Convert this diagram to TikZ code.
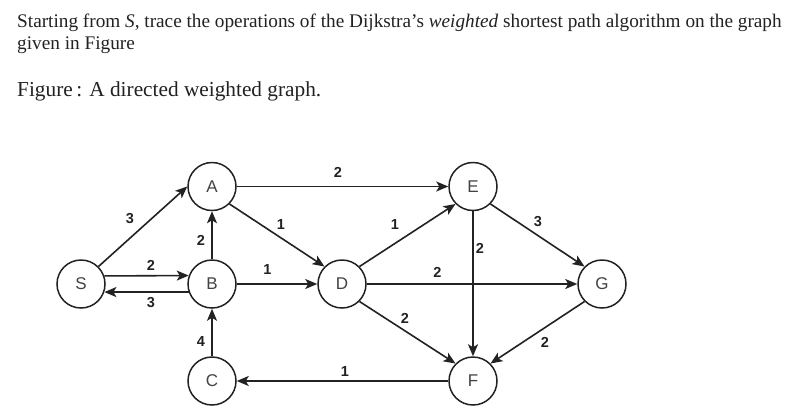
\documentclass[tikz,border=0pt]{standalone}
\usepackage{fontspec}
\setmainfont{Liberation Serif}
\newfontfamily\lsans{Liberation Sans}
\usetikzlibrary{arrows.meta}
\definecolor{ink}{HTML}{222222}
\tikzset{
  vtx/.style={circle, draw=ink, line width=1.5pt, minimum size=48pt, inner sep=0pt,
    font=\lsans\fontsize{17}{17}\selectfont, text=ink!85},
  edge/.style={draw=ink, line width=1.6pt, -{Stealth[length=12pt,width=10pt,inset=3pt]}},
  wt/.style={font=\lsans\bfseries\fontsize{14.5}{14.5}\selectfont, text=ink, inner sep=0pt},
  txt/.style={anchor=base west, inner sep=0pt, text=ink}
}
\begin{document}
\begin{tikzpicture}[x=1pt,y=-1pt]
\useasboundingbox[fill=white] (0,0) rectangle (799,413);
\node[txt, font=\fontsize{19.25}{22}\selectfont] (t1) at (17,27) {Starting from \textit{S}, trace the operations of the Dijkstra’s \textit{weighted} shortest path algorithm on the graph};
\node[txt, font=\fontsize{19.25}{22}\selectfont] (t2) at (17,49.3) {given in Figure};
\node[txt, font=\fontsize{21.3}{24}\selectfont] (t3) at (17,96.7) {Figure\,: A directed weighted graph.};

\node[vtx] (S) at (81,284) {S};
\node[vtx] (A) at (212,186.5) {A};
\node[vtx] (B) at (212,284) {B};
\node[vtx] (C) at (212,381) {C};
\node[vtx] (D) at (342,284) {D};
\node[vtx] (E) at (473,186.5) {E};
\node[vtx] (F) at (473,381) {F};
\node[vtx] (G) at (602,284) {G};

\draw[edge] (S.north east) -- (A.west);
\draw[edge] (S.19.5) -- (B.160.5);
\draw[edge] (B.199.5) -- (S.-19.5);
\draw[edge] (B.north) -- (A.south);
\draw[edge] (C.north) -- (B.south);
\draw[edge] (A.south east) -- (D.north west);
\draw[edge] (B.east) -- (D.west);
\draw[edge] (A.east) -- (E.west);
\draw[edge] (D.north east) -- (E.south west);
\draw[edge] (D.east) -- (G.west);
\draw[edge] (D.south east) -- (F.north west);
\draw[edge] (E.south) -- (F.north);
\draw[edge] (E.south east) -- (G.north west);
\draw[edge] (G.south west) -- (F.north east);
\draw[edge] (F.west) -- (C.east);

\node[wt] (lSA) at (130,219) {3};
\node[wt] (lSB) at (151,265) {2};
\node[wt] (lBS) at (151,303) {3};
\node[wt] (lBA) at (201,240) {2};
\node[wt] (lCB) at (201,342) {4};
\node[wt] (lAD) at (281,224.5) {1};
\node[wt] (lBD) at (267.5,270) {1};
\node[wt] (lAE) at (338,172) {2};
\node[wt] (lDE) at (395,225) {1};
\node[wt] (lDG) at (437.5,272) {2};
\node[wt] (lDF) at (405,318) {2};
\node[wt] (lEF) at (480,248) {2};
\node[wt] (lEG) at (538,222) {3};
\node[wt] (lGF) at (545,342) {2};
\node[wt] (lFC) at (345,372) {1};
\end{tikzpicture}
\end{document}
